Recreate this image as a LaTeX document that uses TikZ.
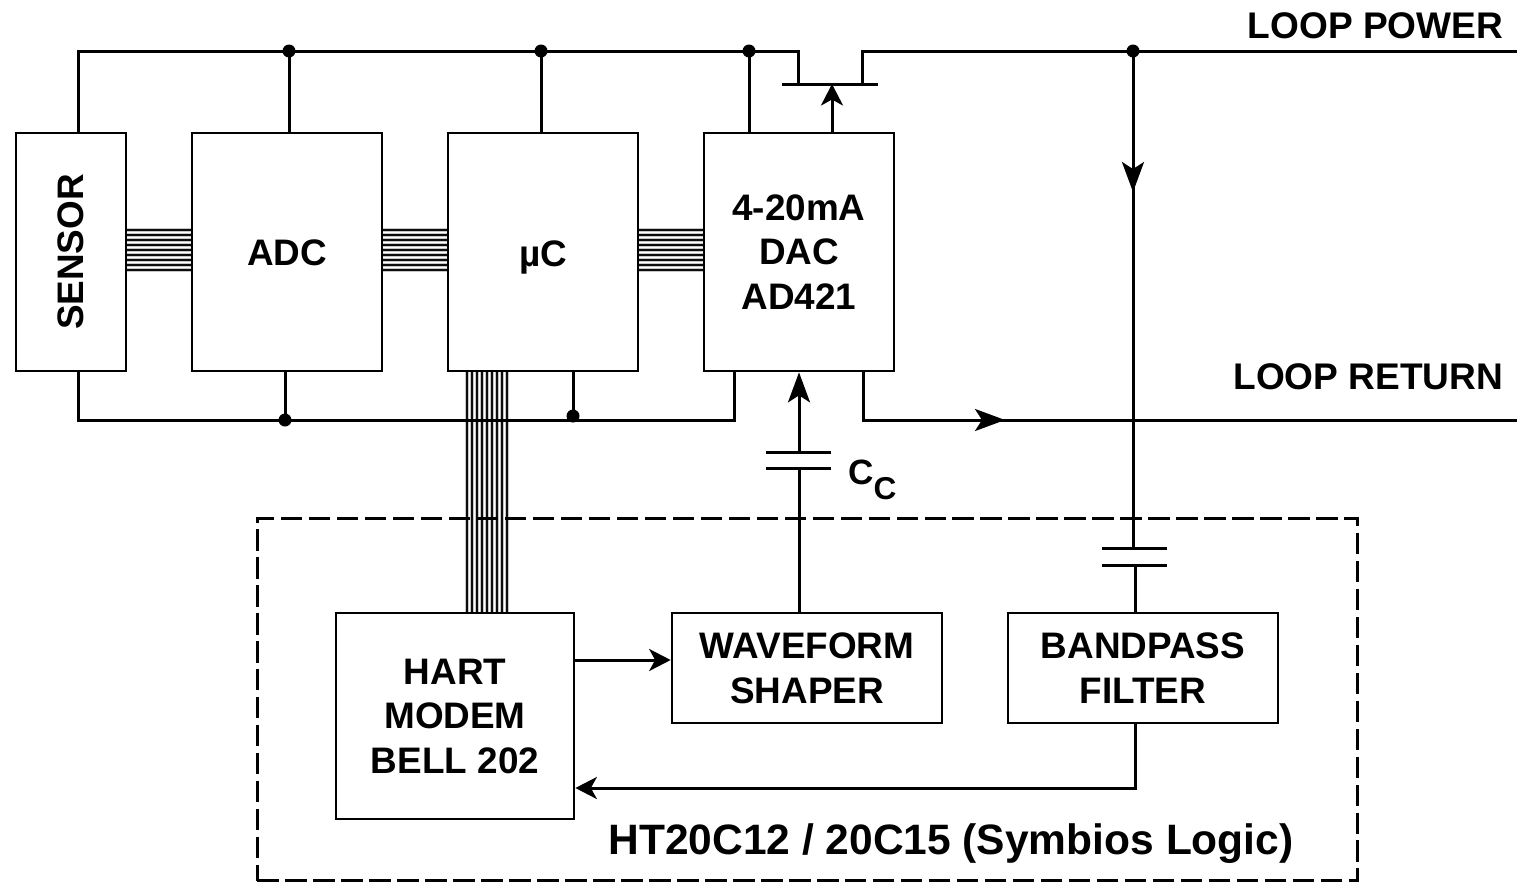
\documentclass[tikz,border=0pt]{standalone}
\usepackage{fontspec}
\setmainfont{Liberation Sans}
\usetikzlibrary{arrows.meta}

\tikzset{
  every block/.style={draw, line width=0.055cm, inner sep=0pt, align=center, font=\fontsize{21}{25.3}\selectfont\bfseries, execute at begin node={\rule{0pt}{0.76em}}},
  tall text/.style={text depth=-2.3pt},
  wire/.style={line width=0.06cm},
  busline/.style={line width=0.04cm, black!95, preaction={draw, black!22, line width=0.08cm}},
  plate/.style={line width=0.06cm},
  dot/.style={circle, fill=black, inner sep=0pt, minimum size=0.26cm},
  label/.style={font=\fontsize{21.1}{25}\selectfont\bfseries, inner sep=0pt},
  short tip/.style={-{Stealth[length=0.43cm, width=0.44cm, inset=0.12cm]}},
  long tip/.style={-{Stealth[length=0.6cm, width=0.44cm, inset=0.14cm]}},
}

\begin{document}
\begin{tikzpicture}[x=0.02cm, y=-0.02cm]
\useasboundingbox (0,0) rectangle (1517,883);

% blocks
\node [every block, minimum width=2.2cm, minimum height=4.76cm] (sensor) at (71,252) {\rotatebox{90}{SENSOR}};
\node [every block, minimum width=3.8cm, minimum height=4.76cm] (adc) at (287,252) {ADC};
\node [every block, minimum width=3.8cm, minimum height=4.76cm] (uc) at (543,252) {\smash{µC}};
\node [every block, tall text, minimum width=3.8cm, minimum height=4.76cm] (dac) at (799,252) {4-20mA\\DAC\\AD421};
\node [every block, tall text, minimum width=4.76cm, minimum height=4.12cm] (modem) at (455,716) {HART\\MODEM\\BELL 202};
\node [every block, tall text, minimum width=5.4cm, minimum height=2.2cm] (shaper) at (807,668) {WAVEFORM\\SHAPER};
\node [every block, tall text, minimum width=5.4cm, minimum height=2.2cm] (filter) at (1143,668) {BANDPASS\\FILTER};

% buses
\foreach \d in {-20,-15,...,20} {
  \draw [busline] (sensor.east |- 0,250+\d) -- (adc.west |- 0,250+\d);
  \draw [busline] (adc.east |- 0,250+\d) -- (uc.west |- 0,250+\d);
  \draw [busline] (uc.east |- 0,250+\d) -- (dac.west |- 0,250+\d);
  \draw [busline] (uc.south -| 486.5+\d,0) -- (modem.north -| 486.5+\d,0);
}

% rails
\coordinate (rail-left) at (78,51);
\coordinate (drain) at (798,51);
\coordinate (source) at (862,51);
\coordinate (power) at (1517,51);
\coordinate (gate-left) at (782,84);
\coordinate (gate-right) at (878,84);
\coordinate (gate-mid) at (832,84);
\coordinate (return-left) at (78,420);
\coordinate (return-a) at (734,420);
\coordinate (return-b) at (863,420);
\coordinate (return-tip) at (1005,420);
\coordinate (return) at (1517,420);

\node [dot] (top-1) at (289,51) {};
\node [dot] (top-2) at (541,51) {};
\node [dot] (top-3) at (749,51) {};
\node [dot] (top-4) at (1133,51) {};
\node [dot] (bot-1) at (285,420) {};
\node [dot] (bot-2) at (573,416) {};

\draw [wire] (sensor.north -| rail-left) -- (rail-left) -- (drain) -- (drain |- gate-left);
\draw [wire] (source |- gate-left) -- (source) -- (power);
\draw [wire] (gate-left) -- (gate-right);
\draw [wire, short tip] (dac.north -| gate-mid) -- (gate-mid);
\draw [wire] (top-1.center) -- (adc.north -| top-1);
\draw [wire] (top-2.center) -- (uc.north -| top-2);
\draw [wire] (top-3.center) -- (dac.north -| top-3);

\draw [wire] (sensor.south -| return-left) -- (return-left) -- (return-a) -- (dac.south -| return-a);
\draw [wire] (bot-1.center) -- (adc.south -| bot-1);
\draw [wire] (bot-2.center) -- (uc.south -| bot-2);
\draw [wire] (dac.south -| return-b) -- (return-b) -- (return);
\draw [wire, long tip] (return-b) -- (return-tip);

% dashed box
\node [draw, dash pattern=on 0.43cm off 0.13cm, line width=0.06cm, inner sep=0pt, minimum width=22.02cm, minimum height=7.26cm] (ht) at (807.5,699.5) {};

% capacitors
\coordinate (cc-top) at (799,452);
\coordinate (cc-bot) at (799,468);
\draw [plate] (766,452) -- (831,452);
\draw [plate] (766,468) -- (831,468);
\draw [wire, long tip] (cc-top) -- (dac.south -| cc-top);
\draw [wire] (shaper.north -| cc-bot) -- (cc-bot);

\coordinate (cf-top) at (1133,548);
\coordinate (cf-bot) at (1135,565);
\coordinate (cf-tip) at (1133,192);
\draw [plate] (1102,548) -- (1167,548);
\draw [plate] (1102,565) -- (1167,565);
\draw [wire] (top-4.center) -- (cf-top);
\draw [wire, long tip] (top-4.center) -- (cf-tip);
\draw [wire] (cf-bot) -- (filter.north -| cf-bot);

% modem links
\draw [wire, short tip] (modem.east |- 0,660) -- (shaper.west |- 0,660);
\draw [wire, short tip] (filter.south -| 1135,0) -- (1135,788) -- (modem.east |- 0,788);

% labels
\node [label, anchor=east] (power-label) at (1503.5,26) {LOOP POWER};
\node [label, anchor=east] (return-label) at (1503.5,377) {LOOP RETURN};
\node [label, anchor=west, font=\fontsize{20}{25}\selectfont\bfseries] (cc-label) at (848,480) {C\raisebox{-0.42em}{\fontsize{18}{25}\selectfont C}};
\node [label, font=\fontsize{24.2}{25}\selectfont\bfseries] (ht-label) at (951,844) {HT20C12 / 20C15 (Symbios Logic)};
\end{tikzpicture}
\end{document}
